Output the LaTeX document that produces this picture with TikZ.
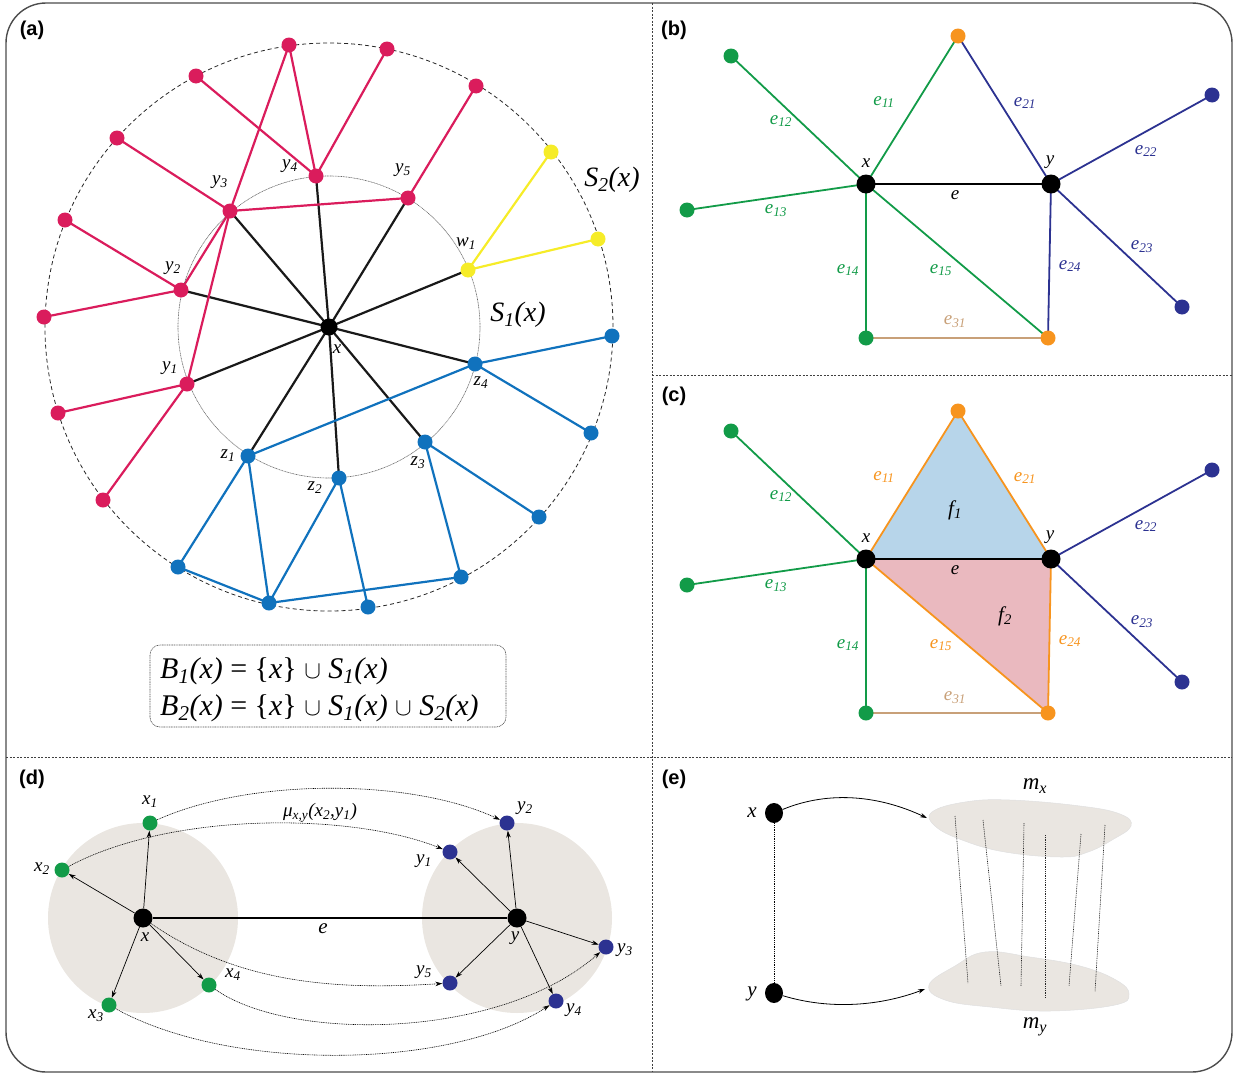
\documentclass[tikz,border=0pt]{standalone}
\usepackage{fontspec}
\setmainfont{Liberation Serif}
\newfontfamily\panelfont{Liberation Sans}
\usetikzlibrary{arrows.meta,shapes.geometric}
\pgfdeclarelayer{back}
\pgfsetlayers{back,main}
\definecolor{mag}{RGB}{218,28,92}
\definecolor{cblue}{RGB}{16,114,189}
\definecolor{cyel}{RGB}{246,236,40}
\definecolor{cgreen}{RGB}{18,155,72}
\definecolor{navy}{RGB}{44,50,145}
\definecolor{corange}{RGB}{247,148,30}
\definecolor{ctan}{RGB}{200,160,120}
\definecolor{fblue}{RGB}{183,213,234}
\definecolor{fpink}{RGB}{234,185,191}
\definecolor{blobg}{RGB}{234,230,225}
\newcommand\lsub[1]{\textsubscript{#1}}
\tikzset{
 dot/.style={circle,inner sep=0pt,minimum size=15pt,fill=#1,draw=none},
 bdot/.style={circle,inner sep=0pt,minimum size=19pt,fill=black},
 lab/.style={inner sep=0pt,font=\fontsize{19}{21}\selectfont\itshape},
 biglab/.style={inner sep=0pt,font=\fontsize{28}{30}\selectfont\itshape},
 elab/.style={inner sep=0pt,font=\fontsize{19}{21}\selectfont\itshape},
 panel/.style={inner sep=0pt,font=\fontsize{20}{22}\selectfont\panelfont\bfseries},
 aedge/.style={line width=2.2pt},
 bedge/.style={line width=1.8pt},
 divider/.style={draw=black!75,line width=0.6pt,dash pattern=on 2pt off 1.5pt},
 darr/.style={line width=0.7pt,-{Stealth[length=7pt,width=4.5pt]}},
 dcurve/.style={line width=0.6pt,dash pattern=on 1pt off 0.8pt,-{Stealth[length=7pt,width=4.5pt]}},
 earr/.style={line width=0.8pt,-{Stealth[length=7pt,width=4.5pt]}},
 vdot/.style={line width=0.6pt,dash pattern=on 1pt off 0.8pt},
}
\begin{document}
\begin{tikzpicture}[x=1pt,y=-1pt]
\useasboundingbox (0,0) rectangle (1237,1076);
% frame and dividers
\draw[black!70,line width=1.4pt,rounded corners=40pt] (6,3) rectangle (1232,1072);
\draw[divider] (652,3) -- (652,1072);
\draw[divider] (6,757) -- (1232,757);
\draw[divider] (652,375) -- (1232,375);
\node[panel] (pa) at (32,30) {(a)};
\node[panel] (pb) at (674,30) {(b)};
\node[panel] (pc) at (674,396) {(c)};
\node[panel] (pd) at (32,779) {(d)};
\node[panel] (pe) at (674,779) {(e)};

% ================= panel (a)
\draw[black!60,line width=0.6pt,dash pattern=on 1pt off 0.6pt] (329,327) circle[radius=151pt];
\draw[black!85,line width=0.8pt,dash pattern=on 4pt off 3pt] (329,327) circle[radius=284pt];
\node[bdot,minimum size=17pt] (ax) at (329,327) {};
\node[dot=mag] (ay1) at (187,384) {};
\node[dot=mag] (ay2) at (181,290) {};
\node[dot=mag] (ay3) at (230,211) {};
\node[dot=mag] (ay4) at (316,176) {};
\node[dot=mag] (ay5) at (408,198) {};
\node[dot=cyel] (aw1) at (468,270) {};
\node[dot=cblue] (az4) at (475,364) {};
\node[dot=cblue] (az3) at (425,442) {};
\node[dot=cblue] (az2) at (339,478) {};
\node[dot=cblue] (az1) at (248,456) {};
\node[dot=mag] (am1) at (289,45) {};
\node[dot=mag] (am2) at (387,49) {};
\node[dot=mag] (am3) at (476,86) {};
\node[dot=mag] (am4) at (196,76) {};
\node[dot=mag] (am5) at (117,138) {};
\node[dot=mag] (am6) at (65,220) {};
\node[dot=mag] (am7) at (44,317) {};
\node[dot=mag] (am8) at (58,413) {};
\node[dot=mag] (am9) at (103,500) {};
\node[dot=cyel] (aye1) at (551,152) {};
\node[dot=cyel] (aye2) at (598,239) {};
\node[dot=cblue] (ab1) at (612,336) {};
\node[dot=cblue] (ab2) at (591,433) {};
\node[dot=cblue] (ab3) at (539,517) {};
\node[dot=cblue] (ab4) at (461,577) {};
\node[dot=cblue] (ab5) at (368,607) {};
\node[dot=cblue] (ab6) at (269,603) {};
\node[dot=cblue] (ab7) at (178,567) {};
\begin{pgfonlayer}{back}
\foreach \n in {ay1,ay2,ay3,ay4,ay5,aw1,az1,az2,az3,az4}
  \draw[aedge,black!90] (ax.center) -- (\n.center);
\foreach \a/\b in {ay4/am1,ay4/am2,ay4/am4,ay3/am1,ay3/am5,ay3/ay5,ay3/ay2,ay3/ay1,ay5/am3,ay2/am6,ay2/am7,ay1/am8,ay1/am9}
  \draw[aedge,mag] (\a.center) -- (\b.center);
\foreach \a/\b in {aw1/aye1,aw1/aye2}
  \draw[aedge,cyel] (\a.center) -- (\b.center);
\foreach \a/\b in {az4/ab1,az4/ab2,az4/az1,az3/ab3,az3/ab4,az1/ab7,az1/ab6,az2/ab6,az2/ab5,ab7/ab6,ab6/ab4}
  \draw[aedge,cblue] (\a.center) -- (\b.center);
\end{pgfonlayer}
\node[lab] (lay4) at (290,166) {y\lsub{4}};
\node[lab] (lay5) at (403,170) {y\lsub{5}};
\node[lab] (lay3) at (220,182) {y\lsub{3}};
\node[lab] (lay2) at (173,268) {y\lsub{2}};
\node[lab] (lay1) at (170,368) {y\lsub{1}};
\node[lab] (law1) at (466,244) {w\lsub{1}};
\node[lab] (laz4) at (481,383) {z\lsub{4}};
\node[lab] (laz3) at (418,463) {z\lsub{3}};
\node[lab] (laz2) at (315,488) {z\lsub{2}};
\node[lab] (laz1) at (228,456) {z\lsub{1}};
\node[lab] (lax) at (337,349) {x};
\node[biglab] (lS2) at (612,180) {S\lsub{2}(x)};
\node[biglab] (lS1) at (518,315) {S\lsub{1}(x)};
\draw[black!70,line width=0.6pt,dash pattern=on 1pt off 0.7pt,rounded corners=10pt] (150,645) rectangle (506,727);
\node[anchor=base west,inner sep=0pt,font=\fontsize{30}{32}\selectfont] (B1) at (160,678) {\textit{B\lsub{1}(x)} = \{\textit{x}\} $\cup$ \textit{S\lsub{1}(x)}};
\node[anchor=base west,inner sep=0pt,font=\fontsize{30}{32}\selectfont] (B2) at (160,715) {\textit{B\lsub{2}(x)} = \{\textit{x}\} $\cup$ \textit{S\lsub{1}(x)} $\cup$ \textit{S\lsub{2}(x)}};

% ================= panel (b)
\node[bdot] (bx) at (866,184) {};
\node[bdot] (by) at (1051,184) {};
\node[dot=corange] (bt) at (958,36) {};
\node[dot=cgreen] (bg1) at (731,56) {};
\node[dot=cgreen] (bg2) at (687,210) {};
\node[dot=cgreen] (bg3) at (866,338) {};
\node[dot=corange] (bo) at (1048,338) {};
\node[dot=navy] (bn1) at (1212,95) {};
\node[dot=navy] (bn2) at (1182,307) {};
\begin{pgfonlayer}{back}
\draw[line width=2.6pt] (bx.center) -- (by.center);
\foreach \n in {bt,bg1,bg2,bg3,bo} \draw[bedge,cgreen] (bx.center) -- (\n.center);
\foreach \n in {bt,bn1,bn2,bo} \draw[bedge,navy] (by.center) -- (\n.center);
\draw[bedge,ctan] (bg3.center) -- (bo.center);
\end{pgfonlayer}
\node[lab] (lbx) at (866,163) {x};
\node[lab] (lby) at (1050,162) {y};
\node[lab] (lbe) at (955,195) {e};
\node[elab,cgreen] (lb11) at (884,102) {e\lsub{11}};
\node[elab,cgreen] (lb12) at (781,121) {e\lsub{12}};
\node[elab,cgreen] (lb13) at (776,211) {e\lsub{13}};
\node[elab,cgreen] (lb14) at (848,270) {e\lsub{14}};
\node[elab,cgreen] (lb15) at (941,270) {e\lsub{15}};
\node[elab,navy] (lb21) at (1025,103) {e\lsub{21}};
\node[elab,navy] (lb22) at (1146,151) {e\lsub{22}};
\node[elab,navy] (lb23) at (1142,247) {e\lsub{23}};
\node[elab,navy] (lb24) at (1070,266) {e\lsub{24}};
\node[elab,ctan] (lb31) at (955,322) {e\lsub{31}};

% ================= panel (c)
\node[bdot] (cx) at (866,559) {};
\node[bdot] (cy) at (1051,559) {};
\node[dot=corange] (ct) at (958,411) {};
\node[dot=cgreen] (cg1) at (731,431) {};
\node[dot=cgreen] (cg2) at (687,585) {};
\node[dot=cgreen] (cg3) at (866,713) {};
\node[dot=corange] (co) at (1048,713) {};
\node[dot=navy] (cn1) at (1212,470) {};
\node[dot=navy] (cn2) at (1182,682) {};
\begin{pgfonlayer}{back}
\fill[fblue] (cx.center) -- (ct.center) -- (cy.center) -- cycle;
\fill[fpink] (cx.center) -- (cy.center) -- (co.center) -- cycle;
\draw[line width=2.6pt] (cx.center) -- (cy.center);
\foreach \n in {cg1,cg2,cg3} \draw[bedge,cgreen] (cx.center) -- (\n.center);
\foreach \n in {cn1,cn2} \draw[bedge,navy] (cy.center) -- (\n.center);
\draw[bedge,corange] (cx.center) -- (ct.center);
\draw[bedge,corange] (cy.center) -- (ct.center);
\draw[bedge,corange] (cx.center) -- (co.center);
\draw[bedge,corange] (cy.center) -- (co.center);
\draw[bedge,ctan] (cg3.center) -- (co.center);
\end{pgfonlayer}
\node[lab] (lcx) at (866,538) {x};
\node[lab] (lcy) at (1050,537) {y};
\node[lab] (lce) at (955,570) {e};
\node[lab,font=\fontsize{21}{23}\selectfont\itshape] (lf1) at (955,510) {f\lsub{1}};
\node[lab,font=\fontsize{21}{23}\selectfont\itshape] (lf2) at (1005,616) {f\lsub{2}};
\node[elab,corange] (lc11) at (884,477) {e\lsub{11}};
\node[elab,cgreen] (lc12) at (781,496) {e\lsub{12}};
\node[elab,cgreen] (lc13) at (776,586) {e\lsub{13}};
\node[elab,cgreen] (lc14) at (848,645) {e\lsub{14}};
\node[elab,corange] (lc15) at (941,645) {e\lsub{15}};
\node[elab,corange] (lc21) at (1025,478) {e\lsub{21}};
\node[elab,navy] (lc22) at (1146,526) {e\lsub{22}};
\node[elab,navy] (lc23) at (1142,622) {e\lsub{23}};
\node[elab,corange] (lc24) at (1070,641) {e\lsub{24}};
\node[elab,ctan] (lc31) at (955,698) {e\lsub{31}};

% ================= panel (d)
\begin{pgfonlayer}{back}
\fill[blobg] (143,918) circle[radius=95pt];
\fill[blobg] (517,918) circle[radius=95pt];
\end{pgfonlayer}
\node[bdot] (dx) at (143,918) {};
\node[bdot] (dy) at (517,918) {};
\node[dot=cgreen] (dx1) at (150,823) {};
\node[dot=cgreen] (dx2) at (62,870) {};
\node[dot=cgreen] (dx3) at (109,1005) {};
\node[dot=cgreen] (dx4) at (209,985) {};
\node[dot=navy] (dy1) at (450,852) {};
\node[dot=navy] (dy2) at (507,823) {};
\node[dot=navy] (dy3) at (606,947) {};
\node[dot=navy] (dy4) at (556,1001) {};
\node[dot=navy] (dy5) at (450,983) {};
\draw[line width=2.6pt] (dx) -- (dy);
\foreach \n in {dx1,dx2,dx3,dx4} \draw[darr] (dx) -- (\n);
\foreach \n in {dy1,dy2,dy3,dy4,dy5} \draw[darr] (dy) -- (\n);
\draw[dcurve] (dx1) .. controls (250,778) and (410,778) .. (dy2);
\draw[dcurve] (dx2) .. controls (170,812) and (350,812) .. (dy1);
\draw[dcurve] (dx) .. controls (240,985) and (340,990) .. (dy5);
\draw[dcurve] (dx4) .. controls (290,1042) and (500,1040) .. (dy3);
\draw[dcurve] (dx3) .. controls (230,1072) and (450,1070) .. (dy4);
\node[lab] (ldx1) at (150,802) {x\lsub{1}};
\node[lab] (ldx2) at (42,869) {x\lsub{2}};
\node[lab] (ldx3) at (96,1016) {x\lsub{3}};
\node[lab] (ldx4) at (233,975) {x\lsub{4}};
\node[lab] (ldy1) at (424,861) {y\lsub{1}};
\node[lab] (ldy2) at (525,808) {y\lsub{2}};
\node[lab] (ldy3) at (625,950) {y\lsub{3}};
\node[lab] (ldy4) at (574,1010) {y\lsub{4}};
\node[lab] (ldy5) at (424,972) {y\lsub{5}};
\node[lab] (ldx) at (145,937) {x};
\node[lab] (ldy) at (515,938) {y};
\node[lab,font=\fontsize{21}{23}\selectfont\itshape] (lde) at (323,929) {e};
\node[lab] (lmu) at (320,813) {μ\lsub{x,y}(x\lsub{2},y\lsub{1})};

% ================= panel (e)
\fill[blobg,draw=black!12,line width=0.5pt] plot[smooth cycle,tension=0.7] coordinates {(932,812) (965,802) (1010,800) (1080,806) (1120,814) (1131,826) (1112,840) (1088,852) (1062,857) (1005,852) (962,840) (935,826)};
\fill[blobg,draw=black!12,line width=0.5pt] plot[smooth cycle,tension=0.7] coordinates {(929,985) (955,966) (985,952) (1030,957) (1080,966) (1116,980) (1129,994) (1115,1005) (1050,1011) (990,1007) (945,1000)};
\node[bdot,ellipse,minimum width=18pt,minimum height=20pt] (ex) at (774,813) {};
\node[bdot,ellipse,minimum width=18pt,minimum height=20pt] (ey) at (774,993) {};
\draw[vdot] (ex) -- (ey);
\coordinate (mxin) at (927,818);
\coordinate (myin) at (925,989);
\draw[earr] (ex) .. controls (830,790) and (880,796) .. (mxin);
\draw[earr] (ey) .. controls (830,1010) and (880,1006) .. (myin);
\node[lab,font=\fontsize{21}{23}\selectfont\itshape] (lex) at (752,813) {x};
\node[lab,font=\fontsize{21}{23}\selectfont\itshape] (ley) at (752,994) {y};
\node[lab,font=\fontsize{23}{25}\selectfont\itshape] (lmx) at (1035,786) {m\lsub{x}};
\node[lab,font=\fontsize{23}{25}\selectfont\itshape] (lmy) at (1035,1027) {m\lsub{y}};
\coordinate (t1) at (955,816); \coordinate (u1) at (968,983);
\coordinate (t2) at (983,820); \coordinate (u2) at (1001,986);
\coordinate (t3) at (1024,823); \coordinate (u3) at (1021,986);
\coordinate (t4) at (1045,835); \coordinate (u4) at (1045,998);
\coordinate (t5) at (1081,834); \coordinate (u5) at (1069,986);
\coordinate (t6) at (1105,825); \coordinate (u6) at (1095,992);
\foreach \i in {1,...,6} \draw[vdot,black!85] (t\i) -- (u\i);
\end{tikzpicture}
\end{document}
